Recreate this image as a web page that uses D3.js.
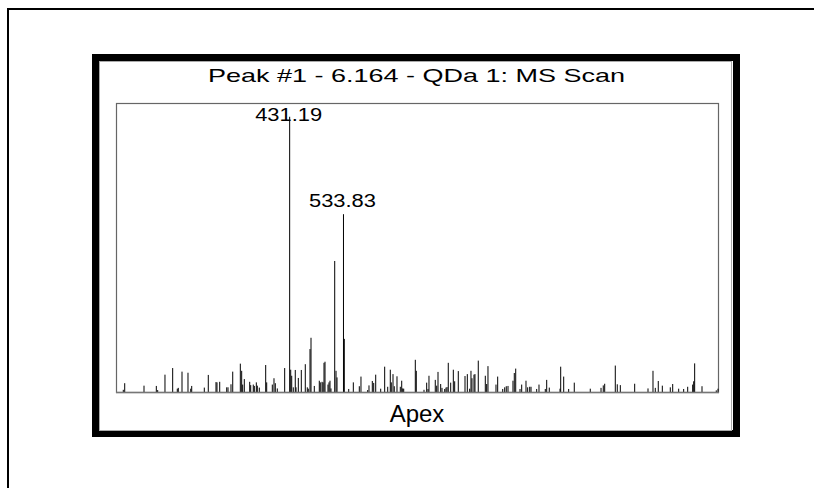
<!DOCTYPE html>
<html>
<head>
<meta charset="utf-8">
<script src="https://cdn.jsdelivr.net/npm/d3@7"></script>
<style>
  html, body { margin: 0; padding: 0; background: #fff; }
  svg { display: block; }
  text { font-family: "Liberation Sans", Arial, sans-serif; fill: #000; }
</style>
</head>
<body>
<svg id="chart" width="814" height="488"></svg>
<script>
// Spectrum: m/z of each centroid and its relative intensity (%)
const mz = [
  113.9, 116.6, 153.4, 176.9, 179.5, 193.4, 208.1, 216.9, 218.8, 225.9,
  237.3, 242.5, 244.4, 268.4, 276.0, 290.7, 292.6, 297.8, 311.1, 313.6,
  319.3, 322.6, 337.1, 339.7, 341.6, 344.7, 355.0, 356.9, 361.8, 363.8,
  367.6, 369.5, 373.3, 385.5, 387.4, 398.1, 401.3, 403.8, 407.6, 421.7,
  431.19, 433.2, 435.1, 438.1, 441.9, 443.3, 447.7, 453.4, 461.0, 464.8,
  466.7, 470.0, 471.9, 478.2, 487.7, 489.6, 492.9, 494.8, 496.7, 498.6,
  504.3, 506.2, 508.1, 510.0, 517.1, 519.6, 521.5, 533.83, 535.4, 543.8,
  552.6, 564.0, 567.2, 580.0, 582.5, 588.8, 591.5, 595.3, 604.8, 612.4,
  618.2, 623.1, 625.0, 628.3, 630.7, 635.9, 642.2, 644.9, 646.8, 648.7,
  670.8, 672.7, 687.4, 692.5, 695.0, 696.9, 708.9, 711.6, 714.1, 719.2,
  721.7, 726.9, 729.3, 731.3, 733.7, 738.3, 743.3, 745.9, 752.8, 765.6,
  770.0, 774.5, 777.0, 778.9, 782.7, 784.6, 790.9, 804.3, 806.9, 809.4,
  824.7, 827.9, 837.5, 841.3, 844.3, 847.6, 857.1, 859.6, 862.3, 870.5,
  873.7, 881.9, 885.1, 889.0, 891.5, 902.3, 906.7, 918.7, 921.4, 926.3,
  946.8, 948.1, 953.8, 963.3, 974.0, 1004.5, 1025.0, 1029.3, 1032.0, 1052.2,
  1056.0, 1061.8, 1089.2, 1114.6, 1124.1, 1128.5, 1134.2, 1141.9, 1157.1, 1161.7,
  1173.1, 1182.6, 1190.3, 1199.8, 1201.7, 1203.6, 1217.6, 1244.8, 1248.1
];
const intensity = [
  0.8, 3.2, 2.3, 2.2, 0.7, 6.3, 8.7, 1.2, 1.5, 7.4,
  7.0, 1.2, 2.2, 1.6, 6.2, 3.6, 3.5, 3.7, 1.7, 1.7,
  2.8, 7.4, 10.3, 7.7, 2.7, 4.7, 3.7, 2.5, 2.7, 2.2,
  3.5, 2.3, 1.6, 9.8, 3.5, 2.7, 5.0, 3.2, 1.3, 8.7,
  100, 8.1, 5.9, 1.7, 8.0, 1.7, 5.1, 8.0, 10.1, 1.7,
  1.2, 15.6, 19.7, 2.2, 4.1, 3.5, 3.7, 3.5, 10.6, 11.0,
  2.7, 3.5, 4.1, 1.3, 47.6, 7.7, 5.3, 64.6, 19.3, 1.1,
  3.5, 2.1, 5.6, 0.7, 2.4, 4.0, 3.3, 6.3, 1.2, 9.2,
  1.9, 8.1, 3.5, 6.5, 2.1, 5.7, 1.9, 4.1, 1.3, 1.2,
  11.7, 7.7, 0.8, 3.4, 1.1, 5.9, 4.4, 2.3, 7.3, 2.9,
  1.5, 1.1, 1.6, 1.8, 10.6, 3.4, 8.1, 3.9, 7.6, 5.8,
  6.5, 1.2, 7.7, 5.0, 6.3, 6.5, 11.4, 5.9, 2.9, 9.4,
  2.7, 5.6, 1.1, 1.7, 2.1, 2.2, 4.1, 6.9, 8.5, 1.1,
  2.7, 4.1, 1.7, 1.9, 1.9, 1.1, 2.7, 1.1, 4.4, 1.6,
  1.2, 9.2, 5.6, 1.1, 3.4, 1.2, 1.5, 2.4, 3.0, 9.6,
  2.8, 2.5, 3.0, 1.3, 7.7, 1.5, 4.0, 2.3, 1.7, 2.9,
  1.2, 1.1, 1.9, 2.7, 3.9, 10.4, 2.1, 0.6, 1.2
];
// Peaks that carry an m/z annotation
const labelledPeaks = [431.19, 533.83];
const mzRange = [100, 1250];
const intensityRange = [0, 105];
const titleText = "Peak #1 - 6.164 - QDa 1: MS Scan";
const footerText = "Apex";

const svg = d3.select("#chart");

// page edge lines
svg.append("line").attr("x1", 8).attr("y1", 9).attr("x2", 8).attr("y2", 488)
  .attr("stroke", "#000").attr("stroke-width", 2);
svg.append("line").attr("x1", 7).attr("y1", 9).attr("x2", 814).attr("y2", 9)
  .attr("stroke", "#000").attr("stroke-width", 2);

// heavy panel frame
svg.append("rect").attr("x", 95.5).attr("y", 57.5).attr("width", 641).attr("height", 376)
  .attr("fill", "#fff").attr("stroke", "#000").attr("stroke-width", 7);
svg.append("rect").attr("x", 99.5).attr("y", 61.5).attr("width", 632).attr("height", 369)
  .attr("fill", "none").attr("stroke", "#aaa").attr("stroke-width", 1);

const plot = { left: 116, right: 719, top: 103, bottom: 392 };

const x = d3.scaleLinear().domain(mzRange).range([plot.left, plot.right]);
const y = d3.scaleLinear().domain(intensityRange).range([plot.bottom, plot.top]);

// plot box
svg.append("rect")
  .attr("x", plot.left + 0.5).attr("y", plot.top + 0.5)
  .attr("width", plot.right - plot.left - 1).attr("height", plot.bottom - plot.top)
  .attr("fill", "none").attr("stroke", "#666").attr("stroke-width", 1.2);

const peaks = d3.zip(mz, intensity).map(([m, v]) => ({ m, v }));

// centroid sticks
svg.append("g").selectAll("line").data(peaks).join("line")
  .attr("x1", d => x(d.m)).attr("x2", d => x(d.m))
  .attr("y1", y(0)).attr("y2", d => y(d.v))
  .attr("stroke", "#000").attr("stroke-width", 1);

// baseline
svg.append("line").attr("x1", plot.left).attr("x2", plot.right)
  .attr("y1", plot.bottom + 0.5).attr("y2", plot.bottom + 0.5)
  .attr("stroke", "#777").attr("stroke-width", 1.4);

// title
svg.append("text").attr("x", 416.5).attr("y", 82)
  .attr("text-anchor", "middle").attr("font-size", 18.5)
  .attr("textLength", 417).attr("lengthAdjust", "spacingAndGlyphs")
  .text(titleText);

// m/z annotations
const labelData = peaks.filter(d => labelledPeaks.includes(d.m));
svg.append("g").selectAll("text").data(labelData).join("text")
  .attr("x", d => x(d.m) - 1)
  .attr("y", d => Math.max(y(d.v) - 7.5, plot.top + 18))
  .attr("text-anchor", "middle").attr("font-size", 18)
  .attr("textLength", 67).attr("lengthAdjust", "spacingAndGlyphs")
  .text(d => d.m.toFixed(2));

// footer
svg.append("text").attr("x", 417).attr("y", 421.5)
  .attr("text-anchor", "middle").attr("font-size", 24)
  .text(footerText);
</script>
</body>
</html>
